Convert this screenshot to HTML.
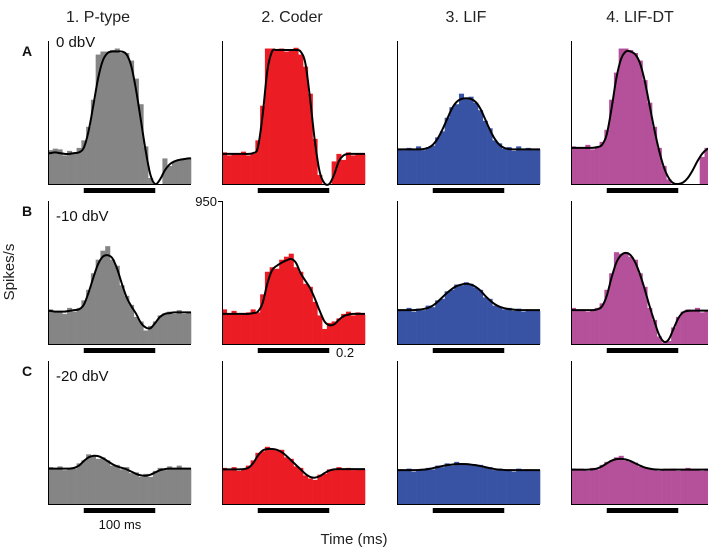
<!DOCTYPE html>
<html><head><meta charset="utf-8">
<style>
html,body{margin:0;padding:0;background:#fff;}
svg{display:block;font-family:"Liberation Sans",Arial,sans-serif;}
</style></head>
<body>
<svg id="fig" width="708" height="556" viewBox="0 0 708 556">
<g font-size="16" fill="#222" text-anchor="middle">
<text x="98" y="22">1. P-type</text>
<text x="292" y="22">2. Coder</text>
<text x="466" y="22">3. LIF</text>
<text x="640" y="22">4. LIF-DT</text>
</g>
<g font-size="14" font-weight="bold" fill="#111">
<text x="22" y="56">A</text>
<text x="22" y="216">B</text>
<text x="22" y="376">C</text>
</g>
<g font-size="15" fill="#111">
<text x="56" y="47">0 dbV</text>
<text x="56" y="221">-10 dbV</text>
<text x="56" y="381">-20 dbV</text>
</g>
<g font-size="13" fill="#111">
<text x="217" y="206" text-anchor="end">950</text>
<text x="336" y="357">0.2</text>
<text x="120" y="529" text-anchor="middle">100 ms</text>
</g>
<text x="354" y="544" font-size="15" fill="#222" text-anchor="middle">Time (ms)</text>
<text transform="translate(14,272) rotate(-90)" font-size="15" fill="#222" text-anchor="middle">Spikes/s</text>
<g id="panels"></g>
</svg>
<script>
const yMax = 950;
const nBins = 30;
const stimStartBin = 7.5;
const stimEndBin = 22.5;
const colNames = ["p-type","coder","lif","lif-dt"];
const rowNames = ["0dbv","minus10dbv","minus20dbv"];
const colColors = ["#858585","#ec1c24","#3953a4","#b5519b"];

const curveA1=[205,210,205,200,200,205,210,240,350,520,700,820,870,880,880,880,860,780,620,420,220,60,0,30,90,130,150,160,165,170];
const histA1=[225,235,230,190,220,205,240,290,380,560,860,880,880,890,900,870,870,820,700,530,250,40,0,0,170,120,150,165,170,175];
const curveA2=[200,200,200,200,200,200,205,240,450,750,880,890,890,890,890,890,880,800,560,280,80,5,0,60,150,190,200,200,200,200];
const histA2=[210,190,200,205,215,190,200,290,520,900,900,890,900,880,890,905,860,780,600,300,60,0,0,150,200,160,210,190,205,200];
const curveA3=[230,230,230,230,230,232,240,260,300,360,430,500,545,565,570,565,545,500,430,360,300,260,240,232,230,230,230,230,230,230];
const histA3=[235,225,240,230,250,225,245,255,310,350,440,510,530,600,570,580,540,490,420,370,290,270,235,245,220,250,225,240,225,230];
const curveA4=[240,240,240,240,240,245,260,330,500,700,830,880,880,860,800,680,520,360,220,110,40,5,0,10,40,90,150,200,230,240];
const histA4=[250,245,235,260,230,250,280,360,560,740,900,900,890,870,820,690,540,380,240,120,30,0,0,0,0,0,0,180,240,250];

const curveB1=[220,215,215,215,220,225,230,260,340,440,530,580,590,570,500,400,310,250,200,140,110,105,140,180,200,205,210,210,210,210];
const histB1=[230,210,220,200,240,215,240,290,360,470,560,620,650,560,520,390,320,260,180,150,90,120,150,190,205,215,200,225,200,210];
const curveB2=[200,200,200,200,200,200,205,215,270,400,490,520,540,555,565,540,470,420,370,300,220,150,125,130,160,185,195,200,200,200];
const histB2=[230,200,220,195,200,210,230,210,330,480,510,500,560,580,600,510,480,400,380,280,190,100,140,150,170,200,215,190,210,195];
const curveB3=[225,225,225,225,228,232,240,255,280,310,340,365,385,395,400,395,380,355,320,290,265,248,238,232,228,225,225,225,225,225];
const histB3=[230,220,240,215,235,225,255,245,290,300,350,360,395,390,410,400,375,360,310,300,255,250,230,240,220,235,215,230,225,220];
const curveB4=[225,225,225,225,225,230,250,320,440,540,590,605,590,540,460,360,250,150,60,15,30,100,170,210,220,222,222,222,222,222];
const histB4=[240,220,230,215,225,240,270,360,470,610,600,600,580,560,470,380,240,160,50,10,20,110,180,215,230,220,240,210,225,220];

const curveC1=[235,235,235,235,235,240,255,285,310,320,318,305,285,265,250,240,230,215,200,190,188,195,210,225,232,235,235,235,235,235];
const histC1=[245,230,250,225,240,235,270,290,330,320,300,310,290,255,260,230,245,205,210,180,200,180,220,240,225,250,230,255,240,235];
const curveC2=[230,230,230,230,232,240,270,320,355,365,365,360,345,320,290,260,230,200,180,175,185,205,222,230,232,232,232,232,232,232];
const histC2=[240,225,245,220,230,255,290,340,350,380,370,355,360,310,300,250,240,190,170,160,195,200,230,225,245,230,240,225,235,230];
const curveC3=[225,225,225,225,226,228,232,238,245,252,258,262,265,266,265,262,258,252,245,238,232,228,226,225,225,225,225,225,225,225];
const histC3=[230,220,235,215,230,225,240,230,255,245,270,255,280,260,270,265,255,260,240,245,225,235,220,230,215,235,225,230,220,225];
const curveC4=[228,228,228,228,230,236,250,270,288,298,300,296,285,270,255,242,235,230,228,228,228,228,228,228,228,228,228,228,228,228];
const histC4=[235,225,230,220,240,230,260,280,290,310,320,290,280,275,250,240,230,235,220,230,225,235,220,230,240,225,230,220,235,230];

const curves=[[curveA1,curveA2,curveA3,curveA4],[curveB1,curveB2,curveB3,curveB4],[curveC1,curveC2,curveC3,curveC4]];
const hists=[[histA1,histA2,histA3,histA4],[histB1,histB2,histB3,histB4],[histC1,histC2,histC3,histC4]];

const NS="http://www.w3.org/2000/svg";
const colX=[48,222,397,571];
const rowTop=[41,201,361];
const pw=143, ph=143;
const root=document.getElementById("panels");
function mk(tag,attrs,parent){const e=document.createElementNS(NS,tag);for(const k in attrs)e.setAttribute(k,attrs[k]);parent.appendChild(e);return e;}

for(let r=0;r<3;r++){for(let c=0;c<4;c++){
  const x0=colX[c], y0=rowTop[r], yb=y0+ph;
  const xs=b=>x0+b*pw/nBins;
  const ys=v=>yb-v/yMax*ph;
  const g=mk("g",{},root);
  
  
  const bw=pw/nBins;
  hists[r][c].forEach((v,i)=>{
    const rect=mk("rect",{x:xs(i),y:ys(v),width:bw+0.3,height:yb-ys(v),fill:colColors[c]},g);
    
    
  });
  const pts=curves[r][c].map((v,i)=>[xs(i+0.5),ys(v)]);
  pts.unshift([x0+0.5,pts[0][1]]);
  pts.push([x0+pw,pts[pts.length-1][1]]);
  let d="M"+pts[0][0]+","+pts[0][1];
  for(let i=0;i<pts.length-1;i++){
    const p0=pts[Math.max(0,i-1)],p1=pts[i],p2=pts[i+1],p3=pts[Math.min(pts.length-1,i+2)];
    const c1=[p1[0]+(p2[0]-p0[0])/6,p1[1]+(p2[1]-p0[1])/6];
    const c2=[p2[0]-(p3[0]-p1[0])/6,p2[1]-(p3[1]-p1[1])/6];
    d+=" C"+c1[0]+","+c1[1]+" "+c2[0]+","+c2[1]+" "+p2[0]+","+p2[1];
  }
  const path=mk("path",{d:d,fill:"none",stroke:"#000","stroke-width":2},g);
  
  
  const ax=mk("path",{d:"M"+(x0+0.5)+","+y0+" V"+(yb+0.5)+" H"+(x0+pw),fill:"none",stroke:"#000","stroke-width":1},g);
  
  
  const sb=mk("rect",{x:xs(stimStartBin),y:yb+4,width:xs(stimEndBin)-xs(stimStartBin),height:5,fill:"#000"},g);
  
  
}}
const tick=mk("line",{x1:218,y1:201.5,x2:222,y2:201.5,stroke:"#000","stroke-width":1},root);


</script>
</body></html>
